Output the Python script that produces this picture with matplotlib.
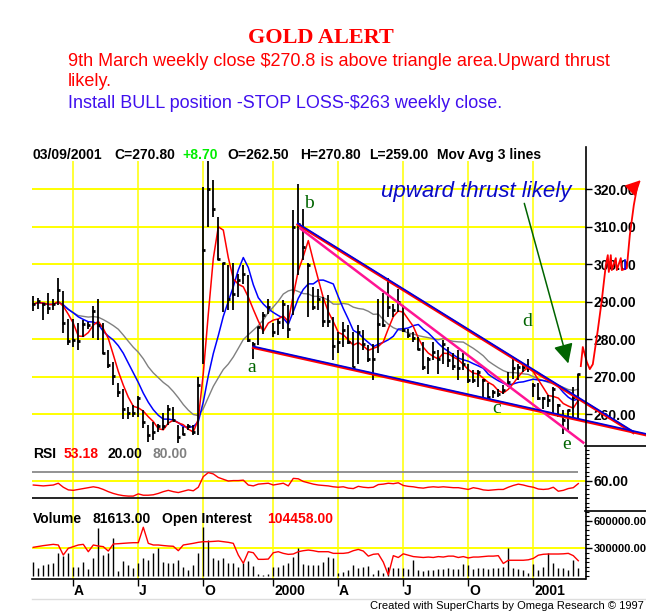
import matplotlib.pyplot as plt
import numpy as np
import pandas as pd
from matplotlib.lines import Line2D
from matplotlib.ticker import MultipleLocator

plt.rcParams['font.family'] = ['Liberation Sans', 'DejaVu Sans']

# weekly bars, Feb 1999 .. 9 Mar 2001
dates = pd.date_range('1999-02-05', periods=110, freq='W-FRI')

high = [291.6, 291.0, 289.7, 292.2, 290.8, 296.4, 292.9, 285.5, 285.5, 284.2,
        285.0, 284.6, 288.8, 290.8, 284.2, 277.1, 274.0, 268.2, 266.8, 262.0,
        262.4, 264.8, 261.0, 257.1, 258.0, 257.5, 260.2, 262.4, 262.0, 257.1,
        256.6, 257.5, 257.1, 270.0, 320.6, 331.0, 322.4, 312.6, 300.2, 299.7,
        300.2, 297.5, 299.7, 297.0, 279.3, 283.3, 287.3, 290.8, 284.2, 285.5,
        290.4, 289.0, 314.4, 321.5, 314.8, 300.2, 294.0, 293.5, 291.3, 291.7,
        286.0, 282.0, 284.6, 283.7, 282.0, 283.7, 282.4, 278.4, 278.8, 290.8,
        292.2, 296.2, 289.5, 293.5, 289.0, 282.8, 282.0, 280.6, 279.3, 275.3,
        279.3, 277.1, 279.7, 278.0, 276.2, 277.1, 276.2, 273.5, 271.7, 271.7,
        269.5, 268.2, 266.4, 266.8, 267.7, 271.3, 275.3, 273.5, 273.5, 274.8,
        268.2, 268.2, 264.6, 265.1, 267.3, 262.8, 261.0, 261.0, 267.3, 270.8]
low = [287.6, 288.0, 285.2, 286.8, 287.9, 289.0, 281.7, 278.4, 278.0, 277.2,
       280.6, 282.8, 280.2, 279.7, 276.0, 272.2, 267.7, 264.6, 258.6, 258.6,
       259.3, 259.3, 256.2, 252.6, 253.1, 255.3, 255.7, 257.1, 258.4, 252.2,
       254.4, 255.7, 254.4, 254.4, 273.5, 310.0, 312.6, 301.1, 287.3, 287.7,
       287.7, 291.3, 294.8, 279.3, 274.8, 278.4, 281.5, 286.8, 280.6, 281.0,
       282.8, 280.2, 286.4, 297.0, 301.1, 286.0, 287.7, 287.7, 283.3, 283.3,
       274.4, 276.2, 278.0, 278.8, 272.6, 273.5, 277.1, 274.0, 269.0, 276.2,
       283.3, 286.0, 286.0, 287.3, 282.0, 280.2, 279.3, 277.1, 271.7, 270.8,
       274.4, 270.8, 273.5, 272.6, 271.7, 269.0, 271.7, 268.2, 268.2, 267.3,
       264.2, 264.2, 264.2, 264.6, 265.5, 267.3, 269.5, 269.0, 271.3, 271.3,
       264.6, 263.7, 261.5, 262.0, 260.2, 259.3, 254.8, 255.7, 259.3, 259.0]
close = [289.3, 290.2, 289.3, 288.2, 289.3, 293.2, 284.4, 279.6, 279.7, 279.6,
         284.0, 283.7, 287.6, 283.7, 276.2, 273.2, 270.2, 266.0, 261.5, 260.4,
         260.4, 264.4, 258.0, 254.4, 255.3, 256.8, 256.8, 261.5, 258.4, 254.0,
         254.8, 256.8, 255.3, 267.7, 303.7, 320.0, 314.6, 301.5, 300.2, 290.6,
         292.0, 295.7, 297.5, 279.7, 278.8, 283.3, 286.4, 288.6, 282.0, 284.6,
         289.5, 282.8, 310.0, 310.8, 304.6, 299.7, 288.6, 290.8, 284.9, 284.9,
         278.1, 279.3, 282.4, 279.3, 272.6, 282.0, 278.8, 274.6, 274.8, 284.0,
         283.7, 288.6, 287.7, 290.0, 282.4, 281.0, 280.2, 277.5, 272.6, 274.8,
         276.6, 274.8, 278.8, 274.4, 272.8, 272.2, 273.5, 269.0, 269.0, 271.3,
         269.0, 264.6, 266.0, 265.5, 266.4, 268.6, 272.2, 272.6, 272.6, 272.2,
         267.7, 264.2, 264.2, 263.7, 266.8, 262.4, 258.4, 261.0, 264.6, 270.8]

rsi = [50, 49, 48, 49, 50, 54, 45, 39, 38, 40,
       42, 44, 46, 44, 40, 35, 31, 28, 26, 25,
       25, 30, 27, 27, 28, 31, 35, 38, 35, 33,
       36, 39, 37, 45, 69, 78, 75, 67, 63, 59,
       60, 60, 61, 50, 48, 52, 53, 54, 50, 52,
       54, 48, 65, 64, 58, 55, 52, 50, 49, 48,
       46, 45, 46, 43, 42, 47, 45, 44, 45, 51,
       52, 54, 53, 55, 49, 47, 46, 44, 43, 45,
       46, 45, 46, 45, 44, 44, 42, 40, 44, 42,
       39, 38, 39, 40, 40, 45, 49, 52, 50, 47,
       45, 41, 40, 41, 45, 36, 38, 42, 44, 53.18]

volume = [154, 83, 118, 124, 141, 246, 217, 246, 101, 101,
          154, 76, 191, 517, 227, 246, 409, 54, 161, 118,
          83, 137, 198, 174, 246, 300, 154, 141, 137, 174,
          101, 65, 118, 246, 535, 391, 191, 174, 191, 137,
          141, 101, 137, 161, 108, 22, 11, 18, 101, 101,
          118, 145, 209, 306, 130, 118, 118, 118, 154, 209,
          198, 29, 40, 65, 118, 83, 100, 110, 20, 60,
          30, 100, 85, 90, 85, 80, 170, 65, 55, 60,
          65, 75, 80, 85, 75, 70, 125, 115, 80, 90,
          85, 80, 85, 90, 95, 300, 90, 70, 65, 36,
          130, 65, 101, 253, 137, 83, 83, 65, 174, 82]
volume = [v * 1000 for v in volume]

open_int = [311, 320, 329, 336, 343, 336, 227, 300, 318, 336,
            343, 263, 336, 325, 318, 270, 347, 350, 354, 358,
            361, 361, 529, 354, 336, 336, 330, 325, 322, 274,
            336, 345, 354, 365, 372, 372, 375, 379, 372, 365,
            354, 227, 137, 263, 252, 180, 180, 183, 252, 263,
            245, 234, 238, 263, 274, 281, 274, 263, 263, 263,
            245, 245, 245, 252, 274, 288, 270, 215, 235, 240,
            150, 10, 220, 200, 240, 225, 210, 205, 200, 205,
            200, 210, 205, 215, 215, 200, 210, 195, 205, 205,
            210, 215, 215, 220, 135, 170, 170, 170, 170, 175,
            190, 225, 235, 238, 238, 238, 240, 245, 220, 165]
open_int = [v * 1000 for v in open_int]

# hand drawn lines (bar index, price)
upper_line = [(52.9, 310.8), (120.0, 255.3)]
lower_line = [(44.0, 278.0), (122.5, 254.7)]
pink_line = [(53.4, 309.5), (110.0, 252.4)]
projection = [(109.5, 272.8), (109.9, 277.9), (110.7, 273.9), (111.3, 272.0),
              (111.9, 273.3), (112.9, 282.4), (113.7, 290.4), (114.5, 299.7),
              (114.9, 302.4), (115.1, 297.9), (115.5, 302.4), (115.7, 298.4),
              (116.5, 301.6), (116.7, 298.4), (117.5, 301.6), (117.7, 298.4),
              (118.7, 298.9), (119.3, 307.7), (120.1, 315.7), (120.9, 321.6)]
proj_tip = (121.5, 322.4)

W, H = 646, 614
def fx(x): return x / W
def fy(y): return 1 - y / H

x = np.arange(len(close))
cl = pd.Series(close)
ma4 = cl.rolling(4, min_periods=1).mean()
ma9 = cl.rolling(9, min_periods=1).mean()
ma18 = cl.rolling(18, min_periods=1).mean()

# quarter grid lines at first bar of Jan/Apr/Jul/Oct
grid_idx, grid_lab = [], []
for i, d in enumerate(dates):
    if d.month in (1, 4, 7, 10) and (i == 0 or dates[i - 1].month != d.month):
        grid_idx.append(i)
        grid_lab.append(str(d.year) if d.month == 1 else {4: 'A', 7: 'J', 10: 'O'}[d.month])

YEL = '#ffff00'
fig = plt.figure(figsize=(W / 100, H / 100), dpi=100)
L, R = 32, 585
ax_r = fig.add_axes([fx(L), fy(511), fx(R) - fx(L), fy(446) - fy(511)])
ax_v = fig.add_axes([fx(L), fy(579), fx(R) - fx(L), fy(511) - fy(579)])
ax = fig.add_axes([fx(L), fy(446), fx(R) - fx(L), fy(161) - fy(446)])
ax.patch.set_visible(False)

for a in (ax, ax_r, ax_v):
    a.set_xlim(-0.26, 110.34)
    for s in a.spines.values():
        s.set_visible(False)
    for g in grid_idx:
        a.axvline(g, color=YEL, lw=1.1, zorder=0)
    a.yaxis.tick_right()
    a.tick_params(axis='y', which='major', direction='out', length=5, width=1, pad=1,
                  labelsize=10, left=False, right=True)
    a.tick_params(axis='y', which='minor', direction='out', length=3, width=0.8,
                  left=False, right=True)
    a.set_xticks([])

# price panel
ax.set_ylim(251.5, 327.5)
for p in range(260, 321, 10):
    ax.axhline(p, color=YEL, lw=1.4, zorder=0)
ax.set_yticks(range(260, 321, 10))
ax.set_yticklabels([f'{p:.2f}' for p in range(260, 321, 10)], fontweight='bold')
ax.plot(x, ma18, color='#808080', lw=1, zorder=2)
ax.plot(x, ma9, color='#0000ff', lw=1.1, zorder=2)
ax.plot(x, ma4, color='#ff0000', lw=1.1, zorder=2)
ax.vlines(x, low, high, color='black', lw=1.3, zorder=3)
ax.hlines(close, x - 0.25, x + 0.3, color='black', lw=2, zorder=3)

for ln in (upper_line, lower_line):
    xs = [q[0] for q in ln]
    ys = [q[1] for q in ln]
    ax.plot(xs, [v - 0.25 for v in ys], color='#ff0000', lw=2, clip_on=False, zorder=4)
    ax.plot(xs, [v + 0.05 for v in ys], color='#0000dd', lw=1.2, clip_on=False, zorder=5)
ax.plot([q[0] for q in pink_line], [q[1] for q in pink_line], color='#ff1493', lw=1.8,
        clip_on=False, zorder=4)

ax.plot([q[0] for q in projection], [q[1] for q in projection], color='#ff0000', lw=1.3,
        clip_on=False, zorder=5)
ax.annotate('', xy=proj_tip, xytext=projection[-1], annotation_clip=False,
            arrowprops=dict(arrowstyle='-|>,head_length=0.6,head_width=0.3', color='#ff0000',
                            lw=1.3, mutation_scale=15, shrinkA=0, shrinkB=0))
ax.plot([118.4, 118.4], [298.7, 301.1], color='#0000ff', lw=1.2, clip_on=False, zorder=5)

ax.annotate('', xy=(107.0, 273.5), xytext=(98.2, 316.2),
            arrowprops=dict(arrowstyle='-|>,head_length=0.7,head_width=0.35', color='#006400',
                            lw=1.1, mutation_scale=17, shrinkA=0, shrinkB=0))
ax.text(69.5, 319.5, 'upward thrust likely', color='#0a0ac8', fontsize=16, style='italic',
        ha='left', va='center')
for lab, lx, ly in [('a', 43.7, 272.5), ('b', 55.1, 316.3), ('c', 92.7, 261.6),
                    ('d', 98.7, 284.8), ('e', 106.7, 252.0)]:
    ax.text(lx, ly, lab, color='#006400', fontsize=14, family='Liberation Serif',
            ha='center', va='center', zorder=6)

# RSI panel
ax_r.set_ylim(-8.6, 138)
ax_r.axhline(60, color=YEL, lw=1.4, zorder=0)
ax_r.hlines(80, -0.26, 109, color='#808080', lw=1.2)
ax_r.hlines(20, -0.26, 109, color='black', lw=1.2)
ax_r.plot(x, rsi, color='#ff0000', lw=1)
ax_r.set_yticks([60])
ax_r.set_yticklabels(['60.00'], fontweight='bold')
ax_r.yaxis.set_minor_locator(MultipleLocator(10))

# volume panel
ax_v.set_ylim(-33700, 705500)
ax_v.axhline(300000, color=YEL, lw=1.4, zorder=0)
ax_v.vlines(x, 0, volume, color='black', lw=1)
ax_v.plot(x, open_int, color='#ff0000', lw=1)
ax_v.set_yticks([300000, 600000])
ax_v.set_yticklabels(['300000.00', '600000.00'], fontweight='bold', fontsize=8)
ax_v.yaxis.set_minor_locator(MultipleLocator(50000))
ax_v.set_xticks(grid_idx)
ax_v.set_xticklabels([])
ax_v.tick_params(axis='x', direction='out', length=5, width=1, color='black', bottom=True)
for g, lab in zip(grid_idx, grid_lab):
    ax_v.text(g + 0.15, -0.18, lab, transform=ax_v.get_xaxis_transform(), ha='left',
              va='center', fontsize=10, fontweight='bold')

# frame lines
def fline(x0, y0, x1, y1, **kw):
    fig.add_artist(Line2D([fx(x0), fx(x1)], [fy(y0), fy(y1)], transform=fig.transFigure, **kw))
fline(585.5, 147, 585.5, 579, color='black', lw=1.2)
fline(585, 446, 646, 446, color='black', lw=1.2)
fline(585, 511, 646, 511, color='black', lw=1.2)
fline(32, 579, 585, 579, color='black', lw=1.2)
fline(32, 599, 646, 599, color='#dddddd', lw=1)

# header texts
fig.text(fx(321), fy(38), 'GOLD ALERT', color='#ff0000', fontsize=16, fontweight='bold',
         family='Liberation Serif', ha='center', va='center')
fig.text(fx(68), fy(61), '9th March weekly close $270.8 is above triangle area.Upward thrust',
         color='#ff0000', fontsize=13, ha='left', va='center')
fig.text(fx(68), fy(82), 'likely.', color='#ff0000', fontsize=13, ha='left', va='center')
fig.text(fx(68), fy(103), 'Install BULL position -STOP LOSS-$263 weekly close.',
         color='#4010ee', fontsize=13, ha='left', va='center')

for tx, s, c in [(32.5, '03/09/2001', 'black'), (114, 'C=270.80', 'black'),
                 (182.7, '+8.70', '#00ee00'), (227.7, 'O=262.50', 'black'),
                 (300, 'H=270.80', 'black'), (369.3, 'L=259.00', 'black'),
                 (436.7, 'Mov Avg 3 lines', 'black')]:
    fig.text(fx(tx), fy(155), s, color=c, fontsize=10, fontweight='bold', ha='left', va='center')

for tx, s, c in [(33, 'RSI', 'black'), (64, '53.18', '#ff0000'),
                 (107.3, '20.00', 'black'), (152.7, '80.00', '#808080')]:
    fig.text(fx(tx), fy(454), s, color=c, fontsize=10, fontweight='bold', ha='left', va='center')

for tx, s, c in [(33.3, 'Volume', 'black'), (92.7, '81613.00', 'black'),
                 (161.7, 'Open Interest', 'black'), (266.7, '104458.00', '#ff0000')]:
    fig.text(fx(tx), fy(519), s, color=c, fontsize=10, fontweight='bold', ha='left', va='center')

fig.text(fx(644), fy(606), 'Created with SuperCharts by Omega Research \u00a9 1997',
         fontsize=8, ha='right', va='center')

fig.savefig('out.png', dpi=100)
